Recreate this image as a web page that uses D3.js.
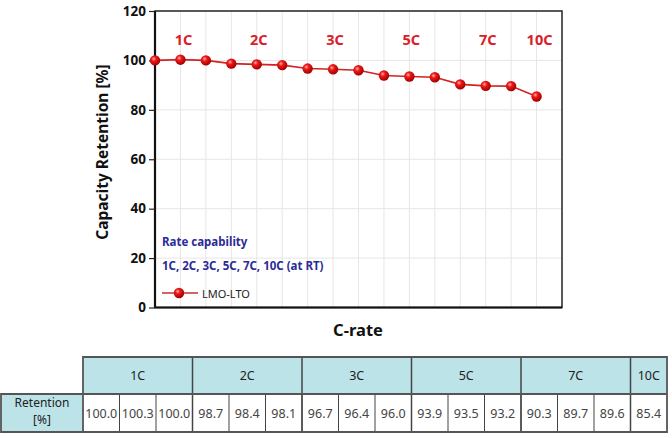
<!DOCTYPE html>
<html><head><meta charset="utf-8">
<script src="https://cdn.jsdelivr.net/npm/d3@7"></script>
<style>body{margin:0;background:#fff}svg{display:block}</style>
</head><body>
<svg id="c" width="672" height="438"></svg>
<script>
const groups = ["1C","2C","3C","5C","7C","10C"];
const groupSizes = [3,3,3,3,3,1];
const retention = [100.0,100.3,100.0,98.7,98.4,98.1,96.7,96.4,96.0,93.9,93.5,93.2,90.3,89.7,89.6,85.4];
const yTicks = [0,20,40,60,80,100,120];
const seriesName = "LMO-LTO";
const noteLines = ["Rate capability","1C, 2C, 3C, 5C, 7C, 10C (at RT)"];
const rowLabel = ["Retention","[%]"];

const svg = d3.select("#c");
const L=155, R=562, T=11, B=307.5;
const x = d3.scaleLinear().domain([0,16]).range([L,R]);
const y = d3.scaleLinear().domain([0,120]).range([B,T]);
const font = "'Noto Sans', 'Open Sans', sans-serif";

const defs = svg.append("defs");
const g = defs.append("radialGradient").attr("id","ball").attr("cx","38%").attr("cy","35%").attr("r","65%");
g.append("stop").attr("offset","0%").attr("stop-color","#ffb0b0");
g.append("stop").attr("offset","35%").attr("stop-color","#f01818");
g.append("stop").attr("offset","100%").attr("stop-color","#a00000");

// grid
svg.append("g").selectAll("line").data(d3.range(1,16)).join("line")
  .attr("x1",d=>x(d)).attr("x2",d=>x(d)).attr("y1",T).attr("y2",B)
  .attr("stroke","#e6e6e6").attr("stroke-width",1);
svg.append("g").selectAll("line").data(yTicks.slice(1,-1)).join("line")
  .attr("x1",L).attr("x2",R).attr("y1",d=>y(d)).attr("y2",d=>y(d))
  .attr("stroke","#e6e6e6").attr("stroke-width",1);

// frame
svg.append("rect").attr("x",L).attr("y",T).attr("width",R-L).attr("height",B-T)
  .attr("fill","none").attr("stroke","#222").attr("stroke-width",1.5);
svg.append("line").attr("x1",L).attr("x2",L).attr("y1",T).attr("y2",B).attr("stroke","#111").attr("stroke-width",2.2);
svg.append("line").attr("x1",L).attr("x2",R).attr("y1",B).attr("y2",B).attr("stroke","#111").attr("stroke-width",2.2);

// y axis
const ya = svg.append("g").attr("transform",`translate(${L},0)`)
  .call(d3.axisLeft(y).tickValues(yTicks).tickSize(6).tickPadding(3));
ya.select(".domain").remove();
ya.selectAll("line").attr("stroke","#222").attr("stroke-width",1.2);
ya.selectAll("text").attr("font-family",font).attr("font-weight","bold").attr("font-size",13.5).attr("fill","#111");

svg.append("text").attr("transform","translate(108,152) rotate(-90)").attr("text-anchor","middle")
  .attr("font-family",font).attr("font-weight","bold").attr("font-size",15.5).attr("fill","#111")
  .text("Capacity Retention [%]");
svg.append("text").attr("x",358).attr("y",336).attr("text-anchor","middle")
  .attr("font-family",font).attr("font-weight","bold").attr("font-size",16.5).attr("fill","#111")
  .text("C-rate");

// group labels
let starts=[]; let acc=0; groupSizes.forEach(s=>{starts.push(acc); acc+=s;});
svg.append("g").selectAll("text").data(groups).join("text")
  .attr("x",(d,i)=>x(starts[i]+(groupSizes[i]-1)/2)+ (i===0?3:(i===5?3:2)))
  .attr("y",45).attr("text-anchor","middle")
  .attr("font-family",font).attr("font-weight","bold").attr("font-size",14.5).attr("fill","#d8202a")
  .text(d=>d);

// line + markers
svg.append("path").datum(retention)
  .attr("d",d3.line().x((d,i)=>x(i)).y(d=>y(d)))
  .attr("fill","none").attr("stroke","#d42222").attr("stroke-width",1.6);
svg.append("g").selectAll("circle").data(retention).join("circle")
  .attr("cx",(d,i)=>x(i)).attr("cy",d=>y(d)).attr("r",5.2).attr("fill","url(#ball)");

// notes + legend
svg.append("g").selectAll("text").data(noteLines).join("text")
  .attr("x",162).attr("y",(d,i)=>246+i*24)
  .attr("font-family",font).attr("font-weight","bold").attr("font-size",11.5).attr("fill","#2c2c96")
  .text(d=>d);
svg.append("line").attr("x1",162).attr("x2",198).attr("y1",293).attr("y2",293).attr("stroke","#c83030").attr("stroke-width",1.6);
svg.append("circle").attr("cx",179).attr("cy",293).attr("r",5.2).attr("fill","url(#ball)");
svg.append("text").attr("x",202).attr("y",297.5).attr("font-family",font).attr("font-size",11).attr("fill","#222").text(seriesName);

// table
const tx0=1, tx1=83, tx2=667, ty0=357, ty1=394, ty2=432;
const cx = d3.scaleLinear().domain([0,retention.length]).range([tx1,tx2]);
const tb = svg.append("g");
tb.append("rect").attr("x",tx1).attr("y",ty0).attr("width",tx2-tx1).attr("height",ty1-ty0).attr("fill","#bce3e8");
tb.append("rect").attr("x",tx0).attr("y",ty1).attr("width",tx1-tx0).attr("height",ty2-ty1).attr("fill","#bce3e8");
// value cells borders
tb.selectAll("line.v").data(d3.range(1,retention.length)).join("line")
  .attr("x1",d=>cx(d)).attr("x2",d=>cx(d)).attr("y1",ty1).attr("y2",ty2)
  .attr("stroke","#444").attr("stroke-width",1);
// group separators
tb.selectAll("line.g").data(starts.slice(1)).join("line")
  .attr("x1",d=>cx(d)).attr("x2",d=>cx(d)).attr("y1",ty0).attr("y2",ty2)
  .attr("stroke","#444").attr("stroke-width",1.5);
// outer borders
tb.append("path").attr("d",`M${tx1},${ty1}V${ty0}H${tx2}V${ty2}H${tx0}V${ty1}H${tx2}M${tx1},${ty1}V${ty2}`)
  .attr("fill","none").attr("stroke","#555").attr("stroke-width",1.8);
// header text
tb.selectAll("text.h").data(groups).join("text")
  .attr("x",(d,i)=>cx(starts[i]+groupSizes[i]/2)).attr("y",380).attr("text-anchor","middle")
  .attr("font-family",font).attr("font-size",12.5).attr("fill","#222").text(d=>d);
// row label
tb.selectAll("text.r").data(rowLabel).join("text")
  .attr("x",(tx0+tx1)/2).attr("y",(d,i)=>407+i*17).attr("text-anchor","middle")
  .attr("font-family",font).attr("font-size",12).attr("fill","#222").text(d=>d);
// values
tb.selectAll("text.val").data(retention).join("text")
  .attr("x",(d,i)=>cx(i+0.5)).attr("y",418).attr("text-anchor","middle")
  .attr("font-family",font).attr("font-size",12.5).attr("fill","#444").text(d=>d.toFixed(1));
</script>
</body></html>
